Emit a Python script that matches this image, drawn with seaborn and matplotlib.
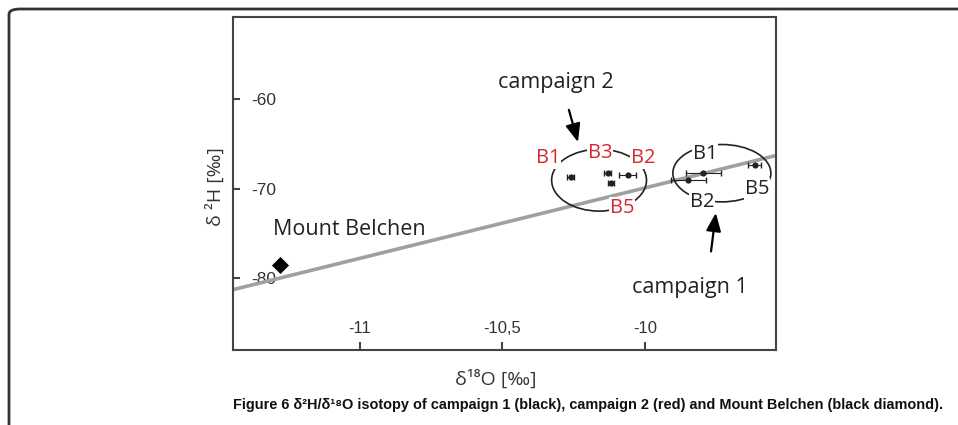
import numpy as np
import pandas as pd
import matplotlib
matplotlib.use('Agg')
import matplotlib.pyplot as plt
from matplotlib.patches import Ellipse, FancyBboxPatch
import seaborn as sns

# values
c1_x = [-9.795, -9.848, -9.614]
c1_y = [-68.3, -69.05, -67.37]
c1_xerr = [0.061, 0.061, 0.023]
c2_x = [-10.26, -10.13, -10.12, -10.06]
c2_y = [-68.7, -68.3, -69.35, -68.5]
c2_xerr = [0.012, 0.012, 0.010, 0.03]
mb_x = [-11.28]
mb_y = [-78.55]
line_x = [-11.45, -9.54]
line_y = [-81.3, -66.3]
xticks = [-11, -10.5, -10]
xtick_labels = ['-11', '-10,5', '-10']
yticks = [-60, -70, -80]
ytick_labels = ['-60', '-70', '-80']

sns.set_style('white')
plt.rcParams['font.family'] = ['Open Sans', 'DejaVu Sans']

fig = plt.figure(figsize=(9.58, 4.25), dpi=100)
ax = fig.add_axes([0.2432, 0.1765, 0.5668, 0.7835])

red = '#d42a2f'
dark = '#222222'

# meteoric water line
sns.lineplot(x=line_x, y=line_y, ax=ax, color='#a0a0a0', lw=2.6, zorder=1)

# campaign points with error bars
ax.errorbar(c2_x, c2_y, xerr=c2_xerr, fmt='none', ecolor=dark, elinewidth=0.8, capsize=2, zorder=3)
ax.errorbar(c1_x, c1_y, xerr=c1_xerr, fmt='none', ecolor=dark, elinewidth=0.8, capsize=2, zorder=3)
sns.scatterplot(x=c2_x + c1_x, y=c2_y + c1_y, ax=ax, marker='o', s=20, color=dark,
                edgecolor=dark, linewidth=0, zorder=4)
sns.scatterplot(x=mb_x, y=mb_y, ax=ax, marker='D', s=90, color='black', zorder=4)

# group ellipses
ax.add_patch(Ellipse((-10.161, -69.05), 0.333, 6.9, fill=False, lw=1.2, ec=dark, zorder=2))
ax.add_patch(Ellipse((-9.730, -68.27), 0.344, 6.4, fill=False, lw=1.2, ec=dark, zorder=2))

lab = dict(fontsize=14.5, ha='center', va='center', zorder=5,
           bbox=dict(boxstyle='square,pad=0.05', fc='white', ec='none'))
for t, x, y in [('B1', -10.340, -66.6), ('B3', -10.158, -66.0), ('B2', -10.007, -66.6), ('B5', -10.081, -72.1)]:
    ax.text(x, y, t, color=red, **lab)
for t, x, y in [('B1', -9.789, -66.15), ('B5', -9.607, -70.06), ('B2', -9.800, -71.5)]:
    ax.text(x, y, t, color=dark, **lab)

ax.text(-10.312, -58.2, 'campaign 2', fontsize=15.5, ha='center', va='center', color=dark)
ax.text(-9.842, -81.0, 'campaign 1', fontsize=15.5, ha='center', va='center', color=dark)
ax.text(-11.039, -74.5, 'Mount Belchen', fontsize=15.5, ha='center', va='center', color=dark)

arrow = dict(arrowstyle='-|>,head_length=1.1,head_width=0.45', color='black', lw=1.6, shrinkA=0, shrinkB=0)
ax.annotate('', xy=(-10.235, -64.8), xytext=(-10.267, -61.2), arrowprops=arrow)
ax.annotate('', xy=(-9.751, -72.7), xytext=(-9.768, -77.0), arrowprops=arrow)

ax.set_xlim(-11.446, -9.54)
ax.set_ylim(-88.0, -50.84)
ax.set_xticks(xticks)
ax.set_xticklabels(xtick_labels, family=['Liberation Sans', 'DejaVu Sans'])
ax.set_yticks(yticks)
ax.set_yticklabels(ytick_labels, family=['Liberation Sans', 'DejaVu Sans'])
ax.tick_params(axis='y', direction='in', length=5, width=1.5, pad=-31, labelsize=12.5,
               color='#444444', labelcolor='#333333', left=True)
ax.tick_params(axis='x', direction='in', length=6, width=1.5, pad=-21, labelsize=12,
               color='#444444', labelcolor='#333333', bottom=True)
for s in ax.spines.values():
    s.set_color('#444444')
    s.set_linewidth(1.5)

ax.set_xlabel('δ¹⁸O [‰]', fontsize=14, color='#333333', labelpad=14)
ax.set_ylabel('δ ²H [‰]', fontsize=14, color='#333333', labelpad=6)
ax.xaxis.label.set_x(0.484)
ax.yaxis.label.set_y(0.49)

# page frame and caption
fig.patches.append(FancyBboxPatch((9 / 958, -0.2), 1.5, 1.2 - 9 / 425,
                                  boxstyle='round,pad=0,rounding_size=0.012',
                                  transform=fig.transFigure, fill=False, ec='#333333', lw=2))
fig.text(233 / 958, 1 - 405 / 425, 'Figure 6 δ²H/δ¹⁸O isotopy of campaign 1 (black), campaign 2 (red) and Mount Belchen (black diamond).',
         fontsize=10.45, fontweight='bold', va='center', ha='left', color='#111111',
         family=['Liberation Sans', 'DejaVu Sans'])

fig.savefig('out.png', dpi=100)
